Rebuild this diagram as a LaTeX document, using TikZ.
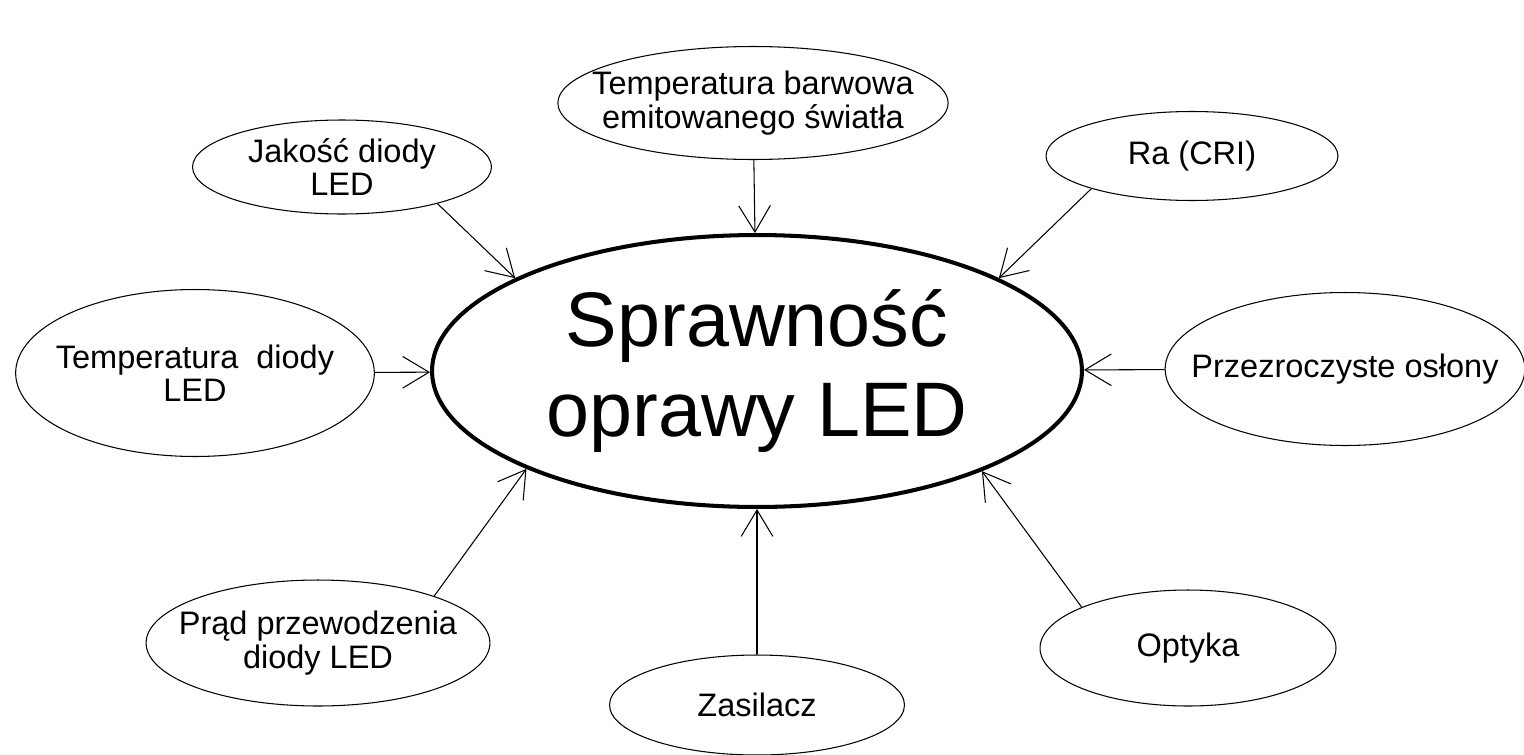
\documentclass[tikz,border=0pt]{standalone}
\usepackage{fontspec}
\setmainfont{Liberation Sans}
\usetikzlibrary{shapes.geometric, arrows.meta}

\begin{document}
\begin{tikzpicture}[x=0.02cm, y=-0.02cm]
    \tikzstyle{factor} = [ellipse, draw=black, line width=0.6pt, inner sep=0pt, align=center,
      font=\fontsize{18.5}{19}\selectfont]
    \tikzstyle{core} = [ellipse, draw=black, line width=2.3pt, inner sep=0pt, align=center,
      minimum width=13cm, minimum height=5.44cm, font=\fontsize{44}{51}\selectfont]
    \tikzstyle{feed} = [-{Straight Barb[length=15pt, width=18pt]}, line width=0.6pt]

    \useasboundingbox (0,0) rectangle (1524,754);

    \node (main)    [core] at (757,371) {Sprawność\\oprawy LED};

    \node (colour)  [factor, inner xsep=-13pt, minimum width=7.8cm, minimum height=2.26cm] at (753,103) {Temperatura barwowa\\emitowanego światła};
    \node (cri)     [factor, minimum width=5.84cm, minimum height=1.78cm] at (1192,156) {Ra (CRI)};
    \node (quality) [factor, minimum width=5.98cm, minimum height=1.88cm] at (342,167) {Jakość diody\\LED};
    \node (temp)    [factor, inner xsep=-7pt, minimum width=7.12cm, minimum height=3.34cm] at (195,373) {Temperatura\ \ diody\\LED};
    \node (covers)  [factor, inner xsep=-15pt, minimum width=7.14cm, minimum height=3.06cm] at (1345,369) {Przezroczyste osłony};
    \node (current) [factor, inner xsep=-10pt, minimum width=6.86cm, minimum height=2.52cm] at (318,643) {Prąd przewodzenia\\diody LED};
    \node (supply)  [factor, minimum width=5.9cm, minimum height=2cm] at (757,705) {Zasilacz};
    \node (optics)  [factor, minimum width=5.92cm, minimum height=2.32cm] at (1188,648) {Optyka};

    \draw [feed] (colour) -- (main);
    \draw [feed] (cri.-162) -- (main.21);
    \draw [feed] (quality.-21) -- (main.159);
    \draw [feed] (temp) -- (main);
    \draw [feed] (covers) -- (main);
    \draw [feed] (current.22) -- (main.-157);
    \draw [feed] (supply) -- (main);
    \draw [feed] (optics.159) -- (main.-24);
\end{tikzpicture}
\end{document}
